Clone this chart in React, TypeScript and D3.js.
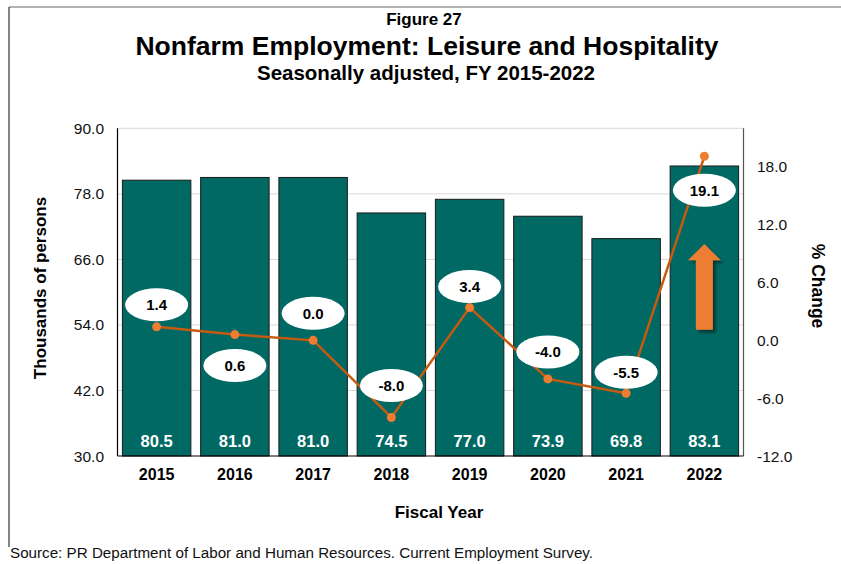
import React from "react";
import * as d3 from "d3";

// data
const years = ["2015", "2016", "2017", "2018", "2019", "2020", "2021", "2022"];
const employment = [80.5, 81.0, 81.0, 74.5, 77.0, 73.9, 69.8, 83.1];
const pctChange = [1.4, 0.6, 0.0, -8.0, 3.4, -4.0, -5.5, 19.1];
const leftTicks = [30, 42, 54, 66, 78, 90];
const rightTicks = [-12, -6, 0, 6, 12, 18];

// where each % label bubble sits relative to its point
const labelDy = [-22, 31, -27, -32, -21, -27, -21, 34];

const FONT = "'Liberation Sans', Arial, sans-serif";
const BAR = "#006964";
const LINE = "#C55A11";
const MARK = "#ED7D31";

export default function App() {
  const left = 117.5;
  const right = 743.5;
  const top = 128.3;
  const bottom = 456;

  const x = d3
    .scaleBand<string>()
    .domain(years)
    .range([left, right])
    .paddingInner(0.125)
    .paddingOuter(0.0625);
  const yL = d3.scaleLinear([30, 90], [bottom, top]);
  const yR = d3.scaleLinear([-12, 22], [bottom, top]);

  const cx = (i: number) => (x(years[i]) as number) + x.bandwidth() / 2;

  const line = d3
    .line<number>()
    .x((_, i) => cx(i))
    .y((d) => yR(d));

  // block arrow over the 2022 bar
  const ax = cx(7);
  const arrow = [
    [ax, yR(10)],
    [ax + 16.5, yR(8.3)],
    [ax + 8.5, yR(8.3)],
    [ax + 8.5, yR(1.1)],
    [ax - 8.5, yR(1.1)],
    [ax - 8.5, yR(8.3)],
    [ax - 16.5, yR(8.3)],
  ];
  const arrowPath = "M" + arrow.map((p) => p.join(",")).join("L") + "Z";

  return (
    <svg
      width={841}
      height={564}
      style={{ position: "absolute", left: 0, top: 0, background: "#fff" }}
      fontFamily={FONT}
    >
      <defs>
        <filter id="shadow" x="-50%" y="-50%" width="200%" height="200%">
          <feGaussianBlur in="SourceAlpha" stdDeviation="1.5" />
          <feOffset dx="3" dy="3" result="b" />
          <feComponentTransfer>
            <feFuncA type="linear" slope="0.45" />
          </feComponentTransfer>
          <feMerge>
            <feMergeNode />
            <feMergeNode in="SourceGraphic" />
          </feMerge>
        </filter>
      </defs>

      {/* outer frame */}
      <line x1={9} x2={841} y1={7} y2={7} stroke="#999" strokeWidth={1.5} />
      <line x1={9} x2={9} y1={7} y2={547} stroke="#333" strokeWidth={1.2} />

      {/* titles */}
      <text x={424} y={25} textAnchor="middle" fontSize={17} fontWeight="bold">
        Figure 27
      </text>
      <text x={427} y={55} textAnchor="middle" fontSize={26.5} fontWeight="bold">
        Nonfarm Employment: Leisure and Hospitality
      </text>
      <text x={426} y={80} textAnchor="middle" fontSize={20.5} fontWeight="bold">
        Seasonally adjusted, FY 2015-2022
      </text>

      {/* gridlines */}
      {leftTicks.slice(1).map((t) => (
        <line key={t} x1={left} x2={right} y1={yL(t)} y2={yL(t)} stroke="#d9d9d9" strokeWidth={1} />
      ))}

      {/* bars */}
      {employment.map((v, i) => (
        <g key={years[i]}>
          <rect
            x={x(years[i])}
            y={yL(v)}
            width={x.bandwidth()}
            height={yL(30) - yL(v)}
            fill={BAR}
            stroke="#1a1a1a"
            strokeWidth={1}
          />
          <text
            x={cx(i)}
            y={yL(30) - 9}
            textAnchor="middle"
            fontSize={16.5}
            fontWeight="bold"
            fill="#fff"
          >
            {v.toFixed(1)}
          </text>
        </g>
      ))}

      {/* axes */}
      <line x1={left} x2={left} y1={top} y2={bottom} stroke="#000" strokeWidth={1.2} />
      <line x1={right} x2={right} y1={top} y2={bottom} stroke="#555" strokeWidth={1.2} />
      <line x1={left} x2={right} y1={bottom} y2={bottom} stroke="#000" strokeWidth={1.2} />

      {leftTicks.map((t) => (
        <text key={t} x={104} y={yL(t) + 5.5} textAnchor="end" fontSize={15.5} fill="#111">
          {t.toFixed(1)}
        </text>
      ))}
      {rightTicks.map((t) => (
        <text key={t} x={757} y={yR(t) + 5.5} textAnchor="start" fontSize={15.5} fill="#111">
          {t.toFixed(1)}
        </text>
      ))}
      {years.map((yr, i) => (
        <text key={yr} x={cx(i)} y={480} textAnchor="middle" fontSize={16} fontWeight="bold">
          {yr}
        </text>
      ))}

      <text x={439} y={518} textAnchor="middle" fontSize={17} fontWeight="bold">
        Fiscal Year
      </text>
      <text
        transform="translate(46,288) rotate(-90)"
        textAnchor="middle"
        fontSize={17}
        fontWeight="bold"
      >
        Thousands of persons
      </text>
      <text
        transform="translate(812,286) rotate(90)"
        textAnchor="middle"
        fontSize={17.5}
        fontWeight="bold"
      >
        % Change
      </text>

      {/* % change line */}
      <path d={line(pctChange) as string} fill="none" stroke={LINE} strokeWidth={2.5} />
      {pctChange.map((v, i) => (
        <circle key={i} cx={cx(i)} cy={yR(v)} r={4.5} fill={MARK} />
      ))}

      {/* label bubbles */}
      {pctChange.map((v, i) => (
        <g key={i} transform={`translate(${cx(i)},${yR(v) + labelDy[i]})`}>
          <ellipse rx={31.5} ry={16.5} fill="#fff" />
          <text y={5.5} textAnchor="middle" fontSize={15} fontWeight="bold">
            {v.toFixed(1)}
          </text>
        </g>
      ))}

      <path d={arrowPath} fill={MARK} filter="url(#shadow)" />

      <text x={10} y={558} fontSize={15.2} fill="#111">
        Source: PR Department of Labor and Human Resources. Current Employment Survey.
      </text>
    </svg>
  );
}
